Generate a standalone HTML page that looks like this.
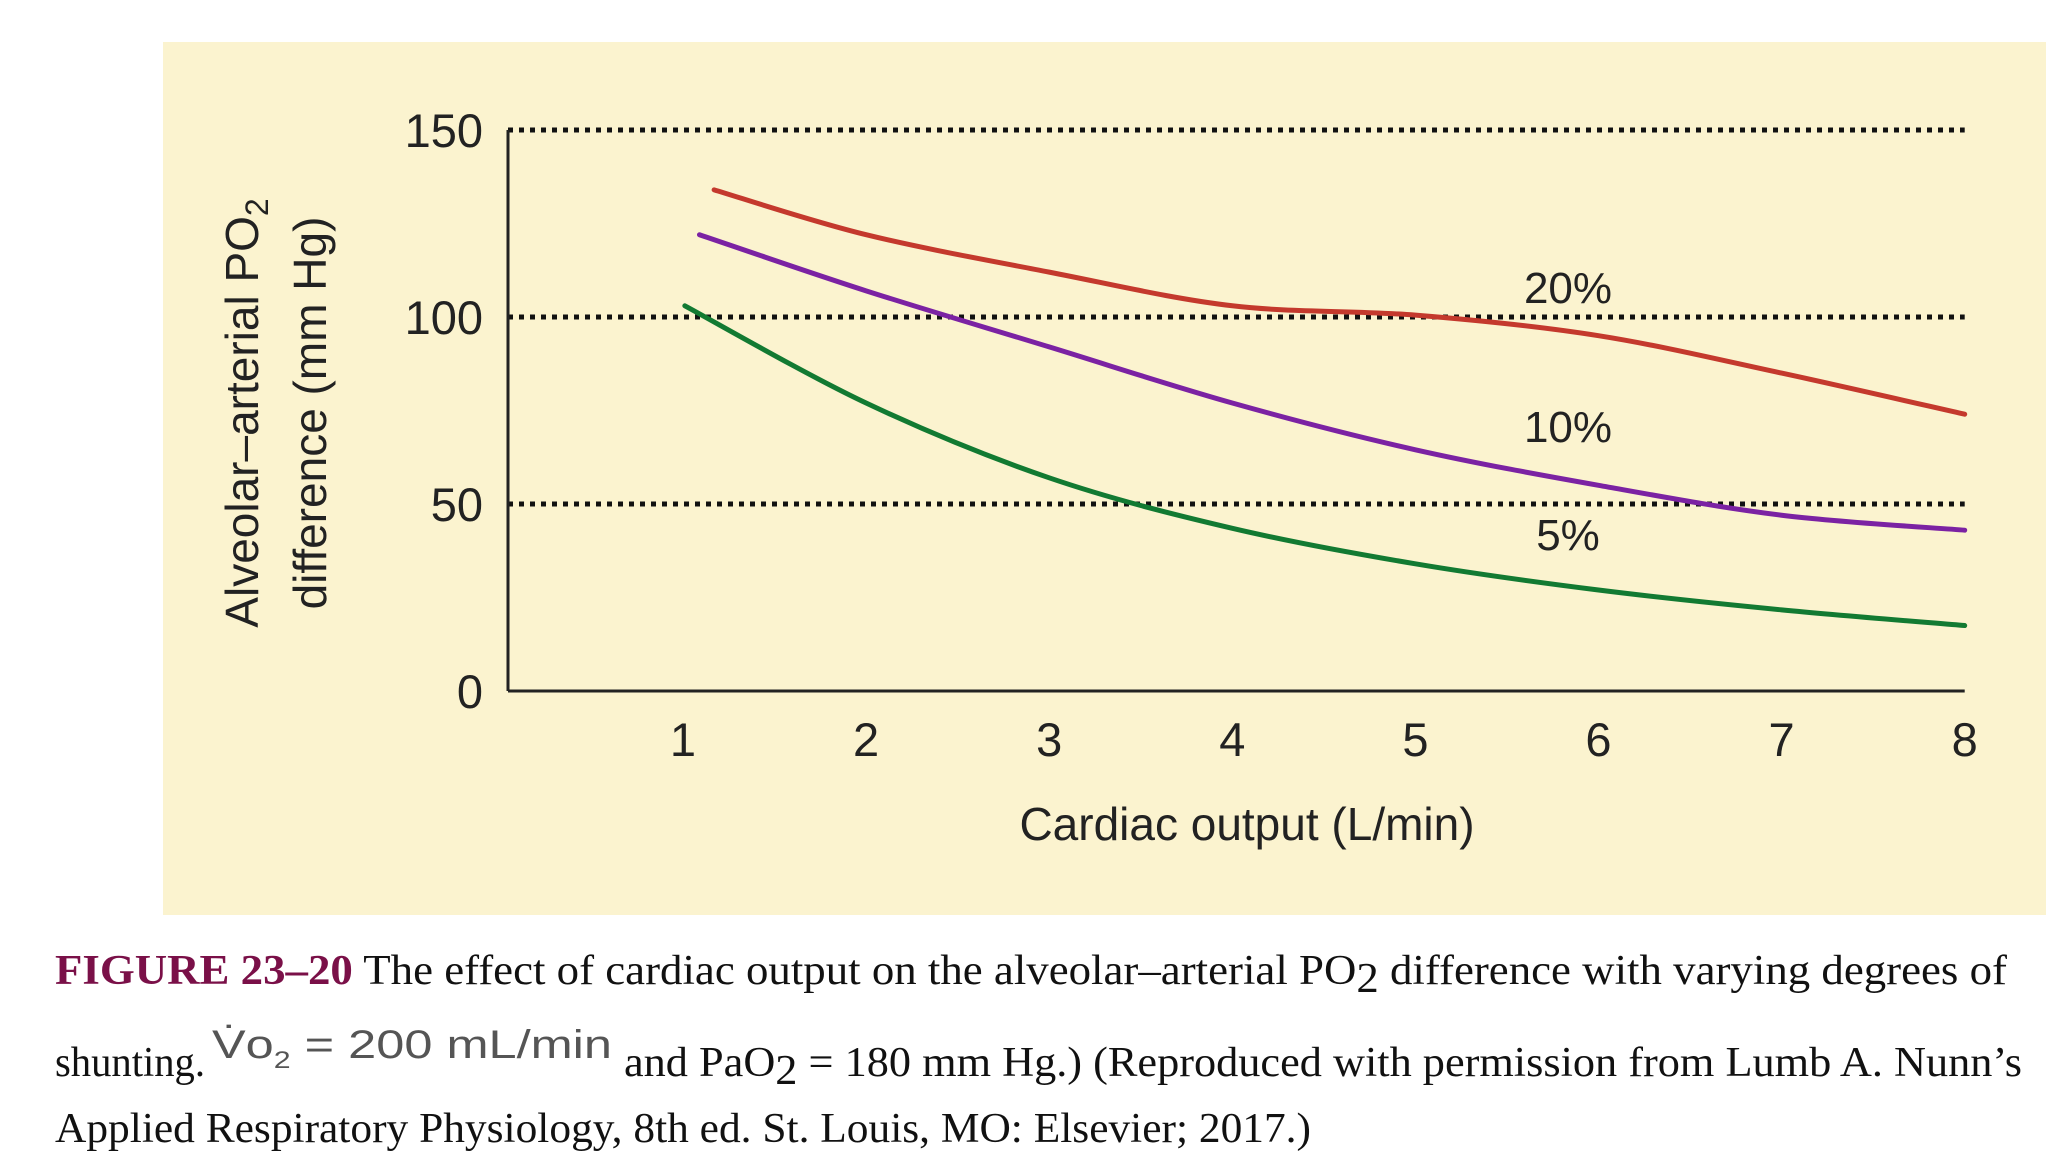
<!DOCTYPE html>
<html><head><meta charset="utf-8"><style>
html,body{margin:0;padding:0;background:#fff;}
svg{display:block;}
</style></head><body>
<svg id="chart" width="2046" height="1176" viewBox="0 0 2046 1176" xmlns="http://www.w3.org/2000/svg">
<rect x="163" y="42" width="1883" height="873" fill="#fbf3cf"/>
<g id="grid"></g>
<g id="axes"></g>
<g id="series"></g>
<g font-family="Liberation Sans, sans-serif" font-size="46" fill="#222" text-anchor="middle">
<text transform="translate(258,413) rotate(-90)">Alveolar–arterial PO<tspan font-size="32" dy="10">2</tspan></text>
<text transform="translate(326,413) rotate(-90)">difference (mm Hg)</text>
</g>
<text x="1247" y="840" font-family="Liberation Sans, sans-serif" font-size="46" fill="#222" text-anchor="middle">Cardiac output (L/min)</text>
<g font-family="Liberation Serif, serif" font-size="42" fill="#111">
<text x="55" y="984" textLength="1952" lengthAdjust="spacingAndGlyphs"><tspan fill="#7a1048" font-weight="bold">FIGURE 23–20</tspan> The effect of cardiac output on the alveolar–arterial PO<tspan dy="8">2</tspan><tspan dy="-8"> difference with varying degrees of</tspan></text>
<text x="55" y="1076" textLength="150" lengthAdjust="spacingAndGlyphs">shunting.</text>
<text x="212" y="1058" font-family="Liberation Sans, sans-serif" font-size="40" fill="#555" textLength="400" lengthAdjust="spacingAndGlyphs">V̇o<tspan font-size="24" dy="10">2</tspan><tspan dy="-10"> = 200 mL/min</tspan></text>
<text x="624" y="1076" textLength="1398" lengthAdjust="spacingAndGlyphs">and PaO<tspan dy="8">2</tspan><tspan dy="-8"> = 180 mm Hg.) (Reproduced with permission from Lumb A. Nunn’s</tspan></text>
<text x="55" y="1142" textLength="1256" lengthAdjust="spacingAndGlyphs">Applied Respiratory Physiology, 8th ed. St. Louis, MO: Elsevier; 2017.)</text>
</g>
</svg>
<script>
const xTicks = [1,2,3,4,5,6,7,8];
const yTicks = [0,50,100,150];
const seriesNames = ['20%','10%','5%'];
const xs20 = [1.17,2,3,4,5,6,7,8];
const ys20 = [134,122,112,103,100.5,95,85,74];
const xs10 = [1.09,2,3,4,5,6,7,8];
const ys10 = [122,107,92,77,64.5,55,47,43];
const xs5 = [1.01,2,3,4,5,6,7,8];
const ys5 = [103,77,57,43.5,34,27,21.7,17.5];
const NS='http://www.w3.org/2000/svg';
const X = v => 683 + (v-1)*183.1;
const Y = v => 691 - v*3.74;
const XEND = X(8);
function mk(tag, attrs, parent){const e=document.createElementNS(NS,tag);for(const k in attrs)e.setAttribute(k,attrs[k]);parent.appendChild(e);return e;}
const grid=document.getElementById('grid'), axes=document.getElementById('axes'), ser=document.getElementById('series');
yTicks.forEach(t=>{
  if(t>0){const l=mk('line',{x1:508,x2:XEND,y1:Y(t),y2:Y(t),stroke:'#111','stroke-width':5,'stroke-dasharray':'5 6'},grid);
    
    }
  const tx=mk('text',{x:483,y:Y(t)+17,'text-anchor':'end','font-family':'Liberation Sans, sans-serif','font-size':47,fill:'#222'},axes);
  tx.textContent=t;
  
  
});
xTicks.forEach(t=>{
  const tx=mk('text',{x:X(t),y:756,'text-anchor':'middle','font-family':'Liberation Sans, sans-serif','font-size':47,fill:'#222'},axes);
  tx.textContent=t;
  
  
});
const ya=mk('line',{x1:508,x2:508,y1:Y(150),y2:Y(0),stroke:'#222','stroke-width':3},axes);


const xa=mk('line',{x1:508,x2:XEND,y1:Y(0),y2:Y(0),stroke:'#222','stroke-width':3},axes);


function smooth(xs,ys){
  const p=xs.map((x,i)=>[X(x),Y(ys[i])]);
  let d='M'+p[0][0]+','+p[0][1];
  for(let i=0;i<p.length-1;i++){
    const p0=p[Math.max(0,i-1)],p1=p[i],p2=p[i+1],p3=p[Math.min(p.length-1,i+2)];
    const c1=[p1[0]+(p2[0]-p0[0])/6,p1[1]+(p2[1]-p0[1])/6];
    const c2=[p2[0]-(p3[0]-p1[0])/6,p2[1]-(p3[1]-p1[1])/6];
    d+=' C'+c1+' '+c2+' '+p2;
  }
  return d;
}
const defs=[[xs20,ys20,'#c4392d',[1568,303]],[xs10,ys10,'#7b22a3',[1568,442]],[xs5,ys5,'#127a32',[1568,550]]];
defs.forEach((s,i)=>{
  const path=mk('path',{d:smooth(s[0],s[1]),fill:'none',stroke:s[2],'stroke-width':5,'stroke-linecap':'round'},ser);
  
  
  const lb=mk('text',{x:s[3][0],y:s[3][1],'text-anchor':'middle','font-family':'Liberation Sans, sans-serif','font-size':44,fill:'#222'},ser);
  lb.textContent=seriesNames[i];
  
  
});
</script>
</body></html>
